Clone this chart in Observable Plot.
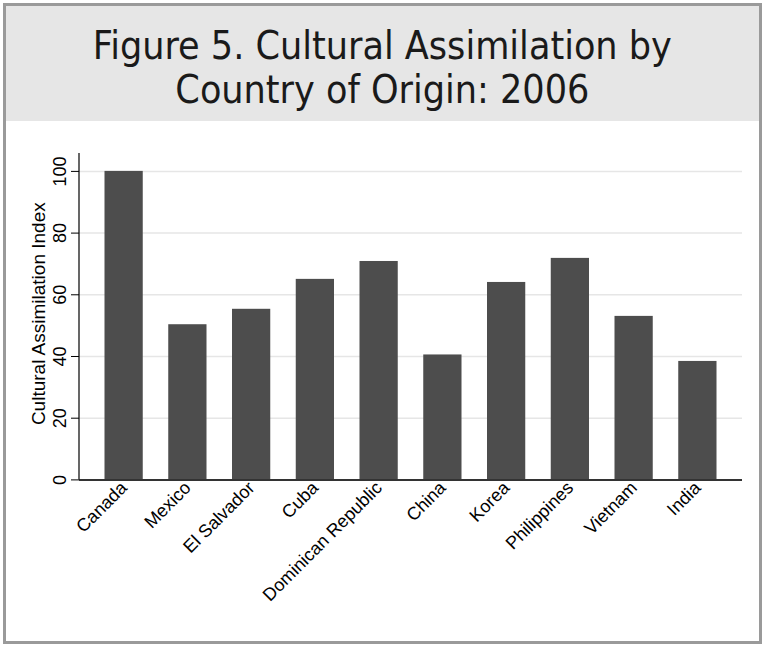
<!DOCTYPE html>
<html>
<head>
<meta charset="utf-8">
<script src="https://cdn.jsdelivr.net/npm/d3@7"></script>
<script src="https://cdn.jsdelivr.net/npm/@observablehq/plot@0.6"></script>
<style>
  html, body { margin: 0; padding: 0; background: #fff; }
  #wrap { position: relative; width: 765px; height: 649px; overflow: hidden; background: #fff; }
  #border { position: absolute; left: 3px; top: 3px; width: 753px; height: 635px; border: 3px solid #9a9a9a; }
  #band { position: absolute; left: 6px; top: 6px; width: 753px; height: 115px; background: #e6e6e6; }
  #title { position: absolute; left: 0; top: 24px; width: 765px; text-align: center; font-family: "Liberation Sans Narrow", "DejaVu Sans Condensed", sans-serif; font-weight: 400; font-size: 39px; line-height: 44px; color: #1a1a1a; white-space: nowrap; }
  #title span { display: inline-block; transform-origin: center; line-height: 44px; }
  #chart { position: absolute; left: 0; top: 122px; }
</style>
</head>
<body>
<div id="wrap">
  <div id="band"></div>
  <div id="border"></div>
  <div id="title"><span>Figure 5. Cultural Assimilation by<br>Country of Origin: 2006</span></div>
  <div id="chart"></div>
</div>
<script>
const countries = ["Canada", "Mexico", "El Salvador", "Cuba", "Dominican Republic", "China", "Korea", "Philippines", "Vietnam", "India"];
const index = [100, 50.3, 55.3, 65.0, 70.8, 40.5, 64.0, 71.8, 53.0, 38.4];
const yTicks = [0, 20, 40, 60, 80, 100];
const gridTicks = [20, 40, 60, 80, 100];
const yLabel = "Cultural Assimilation Index";

const data = countries.map((c, i) => ({country: c, value: index[i]}));

const marginLeft = 79;
const chart = Plot.plot({
  width: 765,
  height: 519,
  marginLeft,
  marginRight: 23,
  marginTop: 31,
  marginBottom: 161.6,
  style: {background: "transparent", fontFamily: "'Liberation Sans', Arial, sans-serif", fontSize: "18px", color: "#000"},
  x: {domain: countries, padding: 0.4, round: false, axis: null},
  y: {domain: [0, 105.8], axis: null},
  marks: [
    Plot.gridY(gridTicks, {stroke: "#e6e6e6", strokeOpacity: 1, strokeWidth: 1.5}),
    Plot.barY(data, {x: "country", y: "value", fill: "#4d4d4d"}),
    Plot.axisY(yTicks, {tickSize: 8, tickFormat: () => "", stroke: "#000", label: null}),
    Plot.text(yTicks, {y: d => d, text: d => String(d), frameAnchor: "left", dx: -19, rotate: -90, textAnchor: "middle", lineAnchor: "middle", fontSize: 18, fill: "#000"}),
    Plot.text([yLabel], {text: d => d, frameAnchor: "left", dx: -41, dy: -3, rotate: -90, textAnchor: "middle", lineAnchor: "middle", fontSize: 19, fill: "#000"}),
    Plot.axisX({tickRotate: -45, tickSize: 0, tickPadding: 5, fontSize: 18, label: null, fill: "#000"}),
    Plot.ruleY([0], {stroke: "#333", strokeWidth: 2})
  ]
});
document.getElementById("chart").appendChild(chart);

// y-axis domain line drawn from the plot's own y scale
const ys = chart.scale("y");
d3.select(chart).append("line")
  .attr("x1", marginLeft).attr("x2", marginLeft)
  .attr("y1", ys.apply(0)).attr("y2", ys.apply(ys.domain[1]))
  .attr("stroke", "#000").attr("stroke-width", 1.2);

// fit the title to the reference width
const s = document.querySelector("#title span");
const w = s.getBoundingClientRect().width;
s.style.transform = `scaleX(${579 / w})`;
</script>
</body>
</html>
